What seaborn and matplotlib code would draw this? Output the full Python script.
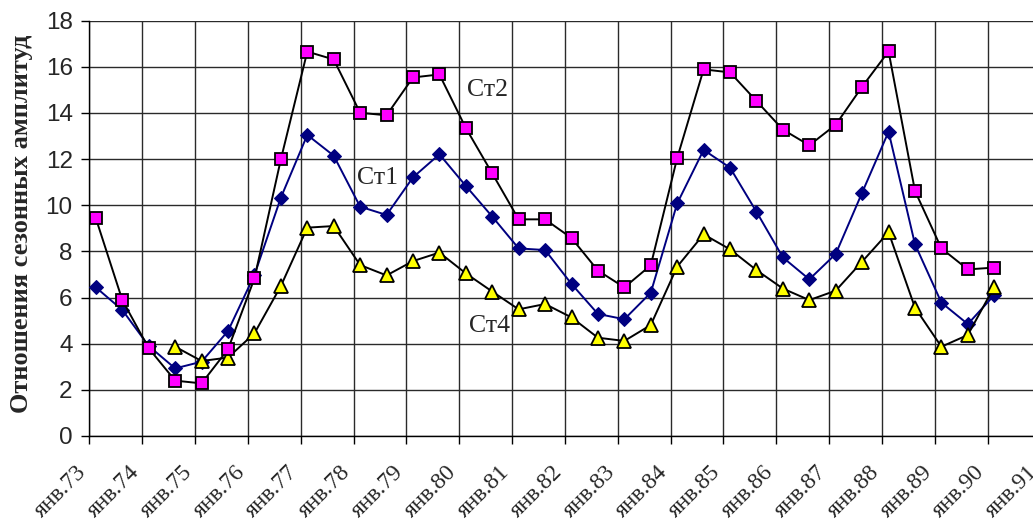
import numpy as np
import pandas as pd
import matplotlib.pyplot as plt
import matplotlib.transforms as mtrans
import seaborn as sns

# half-year observations, feb 1973 .. feb 1990
st1 = [6.44, 5.46, 3.90, 2.93, 3.22, 4.55, 6.98, 10.33, 13.05, 12.15,
       9.94, 9.58, 11.21, 12.21, 10.84, 9.51, 8.13, 8.06, 6.59, 5.29,
       5.06, 6.21, 10.08, 12.40, 11.63, 9.72, 7.74, 6.79, 7.89, 10.55,
       13.19, 8.31, 5.78, 4.85, 6.11]
st2 = [9.43, 5.89, 3.80, 2.40, 2.28, 3.76, 6.83, 11.99, 16.66, 16.32,
       14.01, 13.90, 15.54, 15.67, 13.35, 11.38, 9.39, 9.39, 8.58, 7.17,
       6.44, 7.40, 12.05, 15.89, 15.76, 14.52, 13.28, 12.60, 13.49, 15.14,
       16.67, 10.62, 8.13, 7.22, 7.30]
st4 = [np.nan, np.nan, np.nan, 3.87, 3.25, 3.40, 4.45, 6.50, 9.03, 9.10,
       7.41, 6.96, 7.58, 7.95, 7.05, 6.26, 5.49, 5.72, 5.14, 4.26,
       4.12, 4.81, 7.34, 8.74, 8.09, 7.19, 6.39, 5.89, 6.30, 7.56,
       8.83, 5.56, 3.87, 4.38, 6.47]

years = list(range(1973, 1992))
year_labels = ["янв." + str(y)[2:] for y in years]

t = 1973.125 + 0.5 * np.arange(len(st1))
df = pd.DataFrame({"t": t, "Ст1": st1, "Ст2": st2, "Ст4": st4})

sns.set_style("white")
plt.rcParams['font.family'] = ['Liberation Sans', 'DejaVu Sans']

fig = plt.figure(figsize=(10.33, 5.26), dpi=100)
ax = fig.add_axes([89.3 / 1033, 90 / 526, 951.2 / 1033, 415.3 / 526])

sns.lineplot(data=df, x="t", y="Ст1", ax=ax, color="#000080", lw=1.4,
             marker="D", markersize=7.5, markerfacecolor="#000080",
             markeredgecolor="#000080", zorder=3)
sns.lineplot(data=df, x="t", y="Ст4", ax=ax, color="black", lw=1.4,
             marker="^", markersize=10, markerfacecolor="#FFFF00",
             markeredgecolor="black", markeredgewidth=1.3, zorder=4)
sns.lineplot(data=df, x="t", y="Ст2", ax=ax, color="black", lw=1.4,
             marker="s", markersize=9, markerfacecolor="#FF00FF",
             markeredgecolor="black", markeredgewidth=1.3, zorder=5)

ax.set_xlim(1973, 1991)
ax.set_ylim(0, 18)
ax.set_yticks(range(0, 19, 2))
ax.set_xticks(years)
ax.set_xticklabels(year_labels, rotation=45, ha="right", va="center",
                   rotation_mode="anchor", family="Liberation Serif", fontsize=17)
ax.tick_params(axis="y", labelsize=17.5, length=6, width=1, pad=6, direction="out",
               left=True, color="black")
ax.tick_params(axis="x", length=6, width=1, pad=18, direction="out",
               bottom=True, color="black")
# nudge the slanted labels a bit to the left
shift = mtrans.ScaledTranslation(-6 / 100, 0, fig.dpi_scale_trans)
for lab in ax.get_xticklabels():
    lab.set_transform(lab.get_transform() + shift)

ax.grid(True, color="#2a2a2a", lw=1)
for s in ["top", "right"]:
    ax.spines[s].set_visible(False)
for s in ["left", "bottom"]:
    ax.spines[s].set_color("black")
    ax.spines[s].set_linewidth(1)

ax.set_xlabel("")
ax.set_ylabel("Отношения сезонных амплитуд", family="Liberation Serif",
              fontweight="bold", fontsize=19)
ax.yaxis.set_label_coords(-0.059, 0.51)

for txt, x, y in [("Ст2", 1980.54, 15.0), ("Ст1", 1978.46, 11.18), ("Ст4", 1980.58, 4.77)]:
    ax.text(x, y, txt, family="Liberation Serif", fontsize=18.5,
            ha="center", va="center", zorder=6)

fig.savefig("out.png", dpi=100)
